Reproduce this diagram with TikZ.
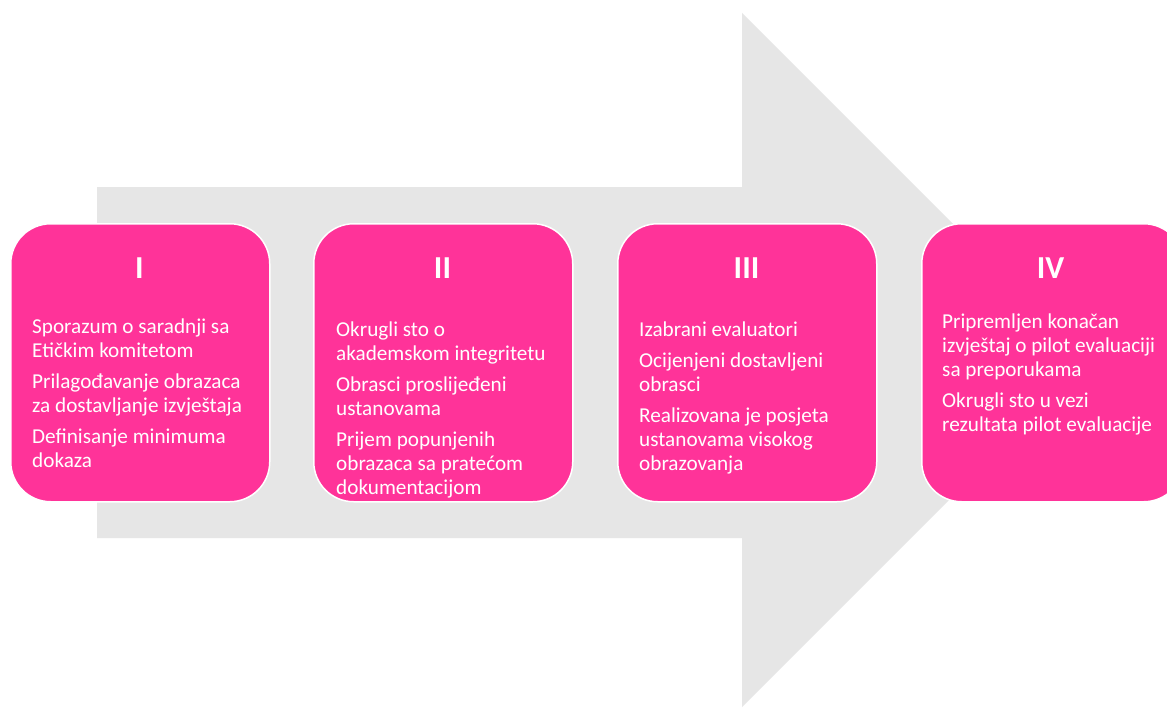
\documentclass[tikz,border=0pt]{standalone}
\usepackage{fontspec}
\setmainfont{Carlito}
\definecolor{pinkbox}{HTML}{FF3399}
\definecolor{arrowgray}{HTML}{E6E6E6}
\begin{document}
\begin{tikzpicture}[x=1pt,y=-1pt,
  stage/.style={draw=white, line width=1.5pt, fill=pinkbox, rounded corners=40pt, anchor=north west, minimum width=259pt, minimum height=278pt, inner sep=0pt},
  stagetitle/.style={text=white, font=\fontsize{32}{38}\selectfont\bfseries, inner sep=0pt, anchor=center},
  body/.style={text=white, font=\fontsize{21.2}{24}\selectfont, align=left, inner sep=0pt, anchor=north west}]
\useasboundingbox (0,0) rectangle (1167,709);
\clip (0,0) rectangle (1167,709);
\fill[white] (0,0) rectangle (1167,709);
% big arrow
\fill[arrowgray] (97,187) -- (742,187) -- (742,13) -- (1089,360) -- (742,707) -- (742,538) -- (97,538) -- cycle;
% stages
\node[stage] (b1) at (10,223) {};
\node[stage] (b2) at (313,223) {};
\node[stage] (b3) at (617,223) {};
\node[stage, minimum width=262pt] (b4) at (921,223) {};
% titles
\node[stagetitle] (t1) at (139.5,268) {I};
\node[stagetitle] (t2) at (442.5,268) {II};
\node[stagetitle] (t3) at (746.5,268) {III};
\node[stagetitle] (t4) at (1050.5,268) {IV};
% bodies
\node[body] (d1) at (32,315) {\rule{0pt}{18pt}Sporazum o saradnji sa\\Etičkim komitetom\\[7pt]Prilagođavanje obrazaca\\za dostavljanje izvještaja\\[7pt]Definisanje minimuma\\dokaza};
\node[body] (d2) at (336,318) {\rule{0pt}{18pt}Okrugli sto o\\akademskom integritetu\\[7pt]Obrasci proslijeđeni\\ustanovama\\[7pt]Prijem popunjenih\\obrazaca sa pratećom\\dokumentacijom};
\node[body] (d3) at (639,318) {\rule{0pt}{18pt}Izabrani evaluatori\\[7pt]Ocijenjeni dostavljeni\\obrasci\\[7pt]Realizovana je posjeta\\ustanovama visokog\\obrazovanja};
\node[body] (d4) at (942,310) {\rule{0pt}{18pt}Pripremljen konačan\\izvještaj o pilot evaluaciji\\sa preporukama\\[7pt]Okrugli sto u vezi\\rezultata pilot evaluacije};
\end{tikzpicture}
\end{document}
